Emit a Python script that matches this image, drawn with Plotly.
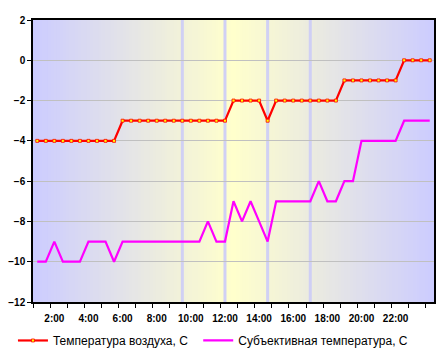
import plotly.graph_objects as go

# ---- data ----
hours = [1 + 0.5 * i for i in range(47)]  # 1:00 .. 24:00, half-hour steps
air_temp = [-4, -4, -4, -4, -4, -4, -4, -4, -4, -4,
            -3, -3, -3, -3, -3, -3, -3, -3, -3, -3, -3, -3, -3,
            -2, -2, -2, -2,
            -3,
            -2, -2, -2, -2, -2, -2, -2, -2,
            -1, -1, -1, -1, -1, -1, -1,
            0, 0, 0, 0]
feel_temp = [-10, -10, -9, -10, -10, -10, -9, -9, -9, -10, -9,
             -9, -9, -9, -9, -9, -9, -9, -9, -9,
             -8, -9, -9,
             -7, -8, -7, -8, -9,
             -7, -7, -7, -7, -7,
             -6, -7, -7, -6, -6,
             -4, -4, -4, -4, -4,
             -3, -3, -3, -3]
tick_hours = [2, 4, 6, 8, 10, 12, 14, 16, 18, 20, 22]
tick_labels = ["2:00", "4:00", "6:00", "8:00", "10:00", "12:00", "14:00",
               "16:00", "18:00", "20:00", "22:00"]
y_ticks = [2, 0, -2, -4, -6, -8, -10, -12]
highlight_hours = [9.5, 12, 14.5, 17]
series_names = ["Температура воздуха, С", "Субъективная температура, С"]

FONT = "Liberation Sans, Arial, sans-serif"

fig = go.Figure()
fig.add_trace(go.Scatter(
    x=hours, y=air_temp, name=series_names[0], mode="lines+markers",
    line=dict(color="#ff0000", width=2.2),
    marker=dict(symbol="square", size=3, color="#ffff00",
                line=dict(color="#ff0000", width=0.8)),
    legend="legend",
))
fig.add_trace(go.Scatter(
    x=hours, y=feel_temp, name=series_names[1], mode="lines",
    line=dict(color="#ff00ff", width=2.2),
    legend="legend2",
))

# gradient background (lavender edges -> pale yellow centre)
shapes = []
N = 134
c_edge = (204, 204, 255)
c_mid = (255, 255, 204)
for i in range(N):
    xc = (i + 0.5) / N
    t = abs(xc - 0.5) * 2
    col = tuple(round(c_mid[k] * (1 - t) + c_edge[k] * t) for k in range(3))
    shapes.append(dict(type="rect", xref="paper", yref="paper",
                       x0=i / N, x1=min(1, (i + 1) / N + 0.002), y0=0, y1=1,
                       fillcolor="rgb(%d,%d,%d)" % col, line=dict(width=0),
                       layer="below"))
for h in highlight_hours:
    shapes.append(dict(type="line", xref="x", yref="paper", x0=h, x1=h,
                       y0=0, y1=1, line=dict(color="rgba(205,205,245,0.95)", width=3),
                       layer="below"))

legend_common = dict(orientation="h", xanchor="left", y=-0.085, yanchor="top",
                     font=dict(size=12, family=FONT), bgcolor="rgba(0,0,0,0)",
                     itemwidth=30)

fig.update_layout(
    width=447, height=355,
    margin=dict(l=33, r=13, t=20, b=53, autoexpand=False),
    paper_bgcolor="white", plot_bgcolor="rgba(0,0,0,0)",
    shapes=shapes,
    font=dict(family=FONT, color="black"),
    showlegend=True,
    legend=dict(x=-0.05, **legend_common),
    legend2=dict(x=0.412, **legend_common),
)
fig.update_xaxes(
    range=[0.75, 24.25], tickmode="array", tickvals=tick_hours, ticktext=tick_labels,
    ticks="", showgrid=False, zeroline=False, automargin=False,
    ticklabelstandoff=6,
    showline=True, linecolor="black", linewidth=1.5, mirror=True,
    tickfont=dict(size=10, family=FONT, weight="bold"),
    minor=dict(tickmode="linear", tick0=0.75, dtick=1, ticks="outside",
               ticklen=4, tickcolor="black", showgrid=False),
)
fig.update_yaxes(
    range=[-12, 2], tickmode="array", tickvals=y_ticks,
    ticks="outside", ticklen=4, tickcolor="black", automargin=False,
    showgrid=True, gridcolor="#c0c0c0", gridwidth=1, zeroline=False,
    showline=True, linecolor="black", linewidth=1.5, mirror=True,
    tickfont=dict(size=10, family=FONT, weight="bold"),
)

fig.write_html("out.html")
